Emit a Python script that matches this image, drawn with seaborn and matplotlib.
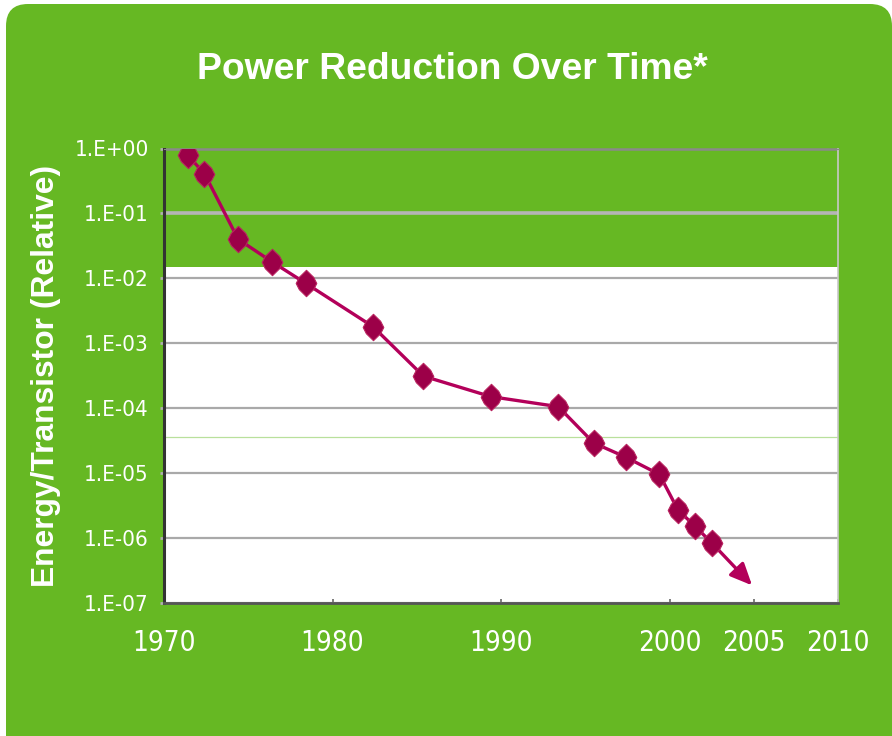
import numpy as np
import pandas as pd
import matplotlib
matplotlib.use("Agg")
import matplotlib.pyplot as plt
from matplotlib.patches import FancyBboxPatch
from matplotlib.path import Path
import seaborn as sns

# Data
years = [1971.4, 1972.4, 1974.4, 1976.4, 1978.4, 1982.4, 1985.4, 1989.4,
         1993.4, 1995.5, 1997.4, 1999.4, 2000.5, 2001.5, 2002.5]
energy = [0.79, 0.41, 0.040, 0.018, 0.0084, 0.0018, 3.1e-4, 1.5e-4,
          1.05e-4, 2.9e-5, 1.75e-5, 9.5e-6, 2.7e-6, 1.52e-6, 8.4e-7]
trend_end_year = 2004.9
trend_end_value = 1.85e-7

x_ticks = [1970, 1980, 1990, 2000, 2005, 2010]
y_ticks = [1e0, 1e-1, 1e-2, 1e-3, 1e-4, 1e-5, 1e-6, 1e-7]
y_tick_labels = ["1.E+00", "1.E-01", "1.E-02", "1.E-03",
                 "1.E-04", "1.E-05", "1.E-06", "1.E-07"]

df = pd.DataFrame({"year": years, "energy": energy})

# Colours
green = "#66b823"
line_color = "#b3005a"
marker_color = "#9c0048"

sns.set_style("white")
bold_family = ["Liberation Sans", "DejaVu Sans"]

W, H = 892, 736
fig = plt.figure(figsize=(W / 100, H / 100), dpi=100, facecolor="white")

# Rounded green panel behind everything
bg = fig.add_axes([0, 0, 1, 1])
bg.set_xlim(0, W)
bg.set_ylim(H, 0)
bg.axis("off")
bg.add_patch(FancyBboxPatch((6, 4), W - 6, H + 30,
                            boxstyle="round,pad=0,rounding_size=22",
                            facecolor=green, edgecolor="none"))

# Plot area in pixel coordinates of the reference
left, right, top, bottom = 164, 838, 148.5, 602.7
ax = fig.add_axes([left / W, 1 - bottom / H, (right - left) / W, (bottom - top) / H])
ax.set_facecolor("white")

ax.set_yscale("log")
ax.set_ylim(1e-7, 1)
ax.set_xlim(1970, 2010)

# Odd green band at top of the plot area (as in the picture)
ax.axhspan(0.0148, 1, color=green, zorder=0.5, lw=0)
ax.axhline(3.6e-5, color="#b9e09c", lw=0.9, zorder=0.6)

for v in y_ticks[1:]:
    ax.axhline(v, color="#a9a9a9", lw=1.6, zorder=1)
ax.axhline(1e-1, color="#b5b5b5", lw=2.6, zorder=1)
ax.axhline(1e0, color="#8a8a8a", lw=1.8, zorder=1, clip_on=False)

# Custom diamond marker, slightly taller than wide, a bit rounded
diamond = Path([(0, 1), (0.54, 0.47), (0.78, 0), (0.54, -0.47), (0, -1),
                (-0.54, -0.47), (-0.78, 0), (-0.54, 0.47), (0, 1)],
               [Path.MOVETO] + [Path.LINETO] * 7 + [Path.CLOSEPOLY])

sns.lineplot(data=df, x="year", y="energy", ax=ax, color=line_color, lw=2.4,
             marker=diamond, markersize=19, markerfacecolor=marker_color,
             markeredgecolor="#b8245f", markeredgewidth=0.8, zorder=3)

ax.annotate("", xy=(trend_end_year, trend_end_value),
            xytext=(years[-1], energy[-1]),
            arrowprops=dict(arrowstyle="-|>,head_length=0.6,head_width=0.27",
                            color=line_color, lw=2.4,
                            mutation_scale=22, shrinkA=0, shrinkB=0),
            zorder=2)

ax.set_yticks(y_ticks)
ax.set_yticklabels(y_tick_labels)
ax.yaxis.set_minor_locator(matplotlib.ticker.NullLocator())
ax.set_xticks(x_ticks)
ax.set_xticklabels([str(t) for t in x_ticks])
ax.tick_params(axis="y", which="major", left=True, length=3, width=2,
               color="#b0b0b0", pad=8, labelsize=16, labelcolor="white")
ax.tick_params(axis="x", which="major", bottom=True, length=3, width=1.2,
               color="#666666", direction="in", pad=19, labelsize=20,
               labelcolor="white")
for lab in ax.get_xticklabels() + ax.get_yticklabels():
    lab.set_family("DejaVu Sans")
    lab.set_stretch("condensed")

ax.set_xlabel("")
ax.set_ylabel("")
ax.grid(False)

for side in ["top", "right"]:
    ax.spines[side].set_visible(True)
ax.spines["top"].set_color("#8a8a8a")
ax.spines["top"].set_linewidth(0.8)
ax.spines["right"].set_color("#c8c8c8")
ax.spines["right"].set_linewidth(1.2)
ax.spines["left"].set_color("#333333")
ax.spines["left"].set_linewidth(2.2)
ax.spines["bottom"].set_color("#555555")
ax.spines["bottom"].set_linewidth(2.0)
ax.axhline(1e-7, color="#a8a8a8", lw=1.8, zorder=0.7)

fig.text(452 / W, 1 - 79 / H, "Power Reduction Over Time*", color="white",
         fontsize=26.8, fontweight="bold", family=bold_family,
         ha="center", va="baseline")
fig.text(46 / W, 1 - 376 / H, "Energy/Transistor (Relative)", color="white",
         fontsize=22.9, fontweight="bold", family=bold_family,
         rotation=90, ha="center", va="center")

fig.savefig("out.png", dpi=100, facecolor=fig.get_facecolor())
